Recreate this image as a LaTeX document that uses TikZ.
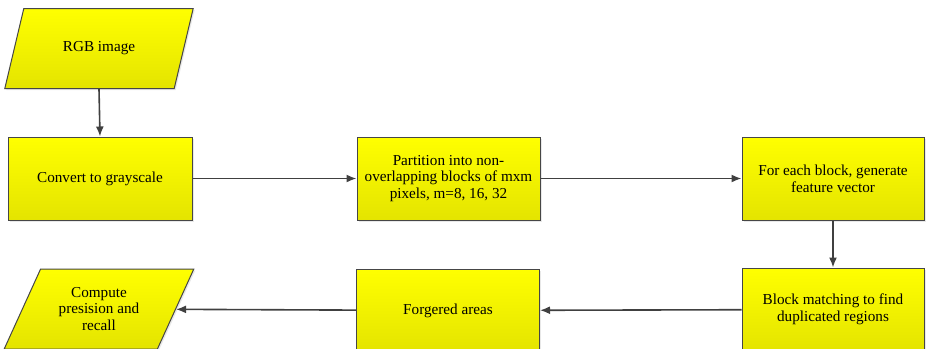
\documentclass[tikz,border=0pt]{standalone}
\usepackage{fontspec}
\setmainfont{Liberation Serif}
\newfontfamily\boxfont{Liberation Serif}
\usetikzlibrary{shapes.geometric,arrows.meta,shadows}
\definecolor{edgegray}{RGB}{70,70,70}
\definecolor{linegray}{RGB}{64,64,64}
\definecolor{ytop}{RGB}{255,255,0}
\definecolor{ybot}{RGB}{228,228,0}
\tikzset{
  box/.style={rectangle, draw=edgegray, line width=1pt, top color=ytop, bottom color=ybot,
    minimum width=183pt, minimum height=83pt, align=center, inner sep=2pt,
    font=\boxfont\fontsize{15.2}{16.7}\selectfont,
    drop shadow={opacity=0.18, shadow xshift=1.5pt, shadow yshift=-1.5pt}},
  iobox/.style={trapezium, trapezium left angle=61, trapezium right angle=119,
    trapezium stretches=true, draw=edgegray, line width=1pt, top color=ytop, bottom color=ybot,
    minimum width=190pt, minimum height=80pt, align=center, inner sep=2pt,
    font=\boxfont\fontsize{15.2}{16.7}\selectfont,
    drop shadow={opacity=0.18, shadow xshift=1.5pt, shadow yshift=-1.5pt}},
  conn/.style={draw=linegray, line width=1.6pt, -{Latex[length=10pt,width=8pt]}}
}
\begin{document}
\begin{tikzpicture}[x=1pt,y=-1pt]
\useasboundingbox (0,0) rectangle (926,348);
\node[iobox] (rgb) at (99,48.5) {RGB image};
\node[box, minimum width=184pt] (conv) at (100,178.5) {Convert to grayscale};
\node[box] (part) at (448.5,178.5) {Partition into non-\\overlapping blocks of mxm\\pixels, m=8, 16, 32};
\node[box, minimum width=182pt] (feat) at (833,178.5) {For each block, generate\\feature vector};
\node[box, minimum width=182pt] (match) at (833,309.5) {Block matching to find\\duplicated regions};
\node[box] (forg) at (448,310.5) {Forgered areas};
\node[iobox] (comp) at (99,309) {Compute\\presision and\\recall};
\draw[conn] (rgb.center |- rgb.bottom side) -- (conv.north);
\draw[conn] (conv) -- (part);
\draw[conn] (part) -- (feat);
\draw[conn] (feat) -- (match);
\draw[conn] (match) -- (forg);
\draw[conn] (forg) -- (comp);
\end{tikzpicture}
\end{document}
